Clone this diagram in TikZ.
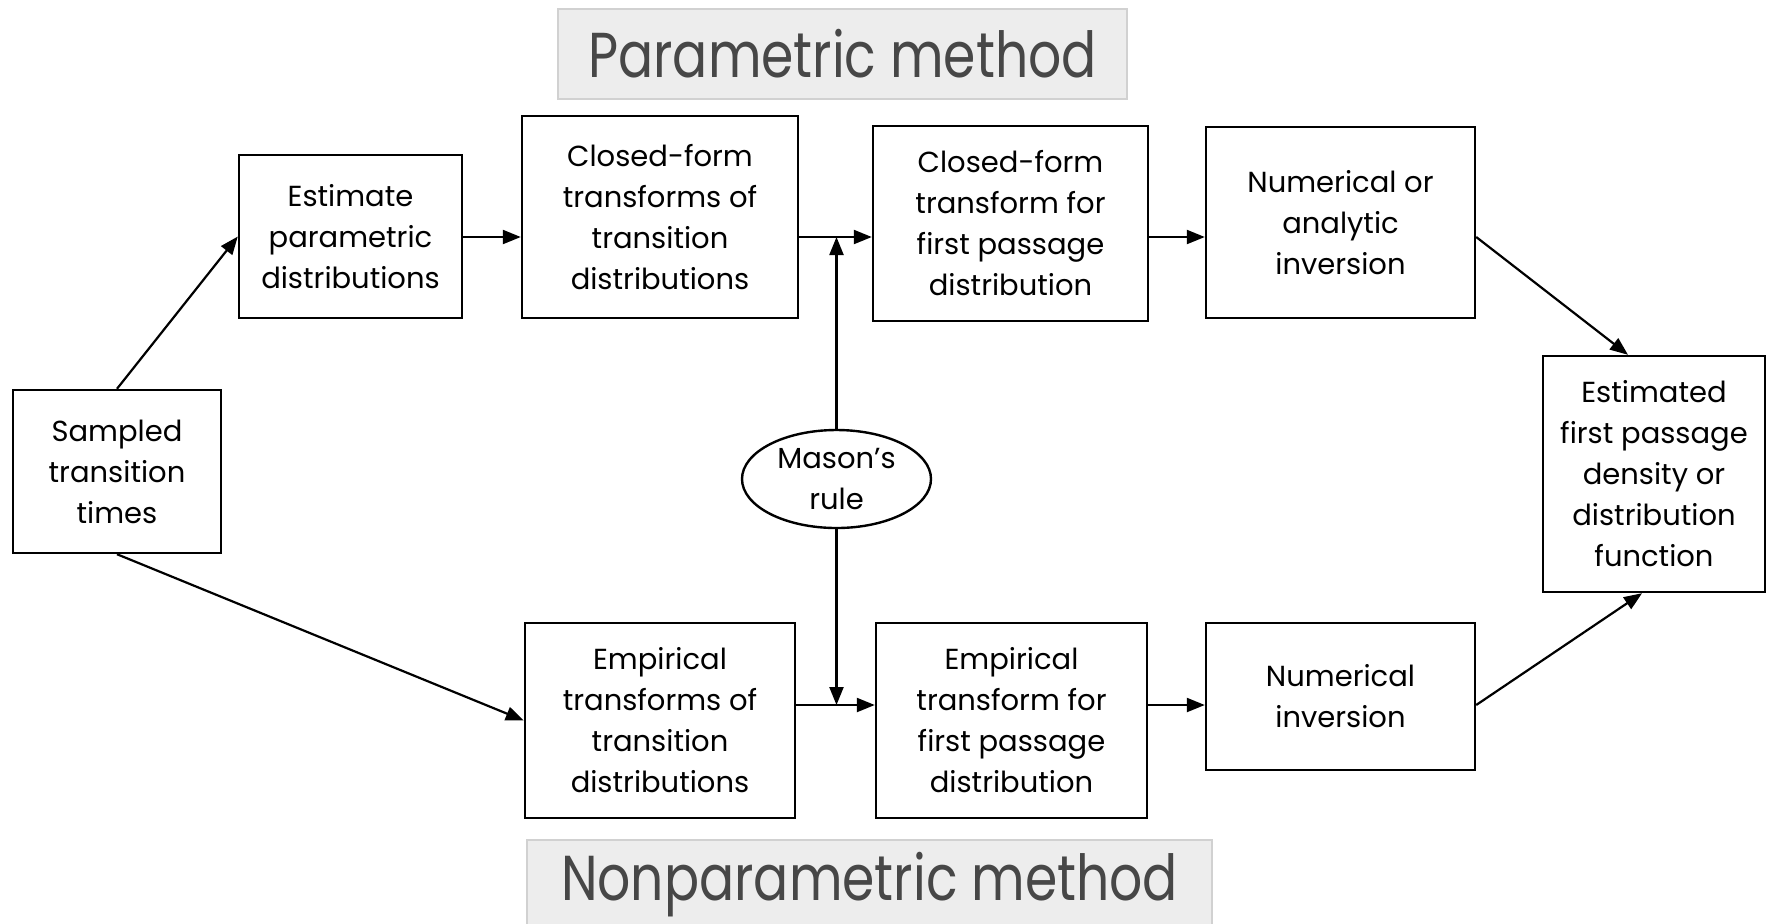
\documentclass[tikz,border=0pt]{standalone}
\usepackage{fontspec}
\setmainfont{Poppins}
\usetikzlibrary{arrows.meta,shapes.geometric}
\begin{document}
\begin{tikzpicture}[x=0.5pt,y=-0.5pt,
  box/.style={draw=black,line width=1.2pt,align=center,inner sep=0pt,
    font=\fontsize{14.5}{20.5}\selectfont},
  title/.style={draw=black!18,fill=black!7,line width=0.8pt,inner sep=0pt,
    text=black!72,font=\fontsize{26}{28}\selectfont},
  arr/.style={line width=1.1pt,-{Triangle[length=9pt,width=7pt]}}]
\useasboundingbox (0,0) rectangle (1767,923);
% titles
\node[title,minimum width=284.5pt,minimum height=45pt] (tp) at (842.5,54) {\scalebox{1}[1.22]{Parametric method}};
\node[title,minimum width=342.5pt,minimum height=45pt] (tn) at (869.5,885) {\scalebox{1}[1.22]{Nonparametric method}};
% boxes
\node[box,minimum width=103.75pt,minimum height=81.5pt] (samp) at (117,471.5) {Sampled\\transition\\times};
\node[box,minimum width=111.5pt,minimum height=81.5pt] (est) at (350.5,236.5) {Estimate\\parametric\\distributions};
\node[box,minimum width=138pt,minimum height=101pt] (cft) at (660,217) {Closed-form\\transforms of\\transition\\distributions};
\node[box,minimum width=137.5pt,minimum height=97.5pt] (cftf) at (1010.5,223.5) {Closed-form\\transform for\\first passage\\distribution};
\node[box,minimum width=134.5pt,minimum height=95.5pt] (noa) at (1340.5,222.5) {Numerical or\\analytic\\inversion};
\node[box,minimum width=111pt,minimum height=118pt] (estd) at (1654,474) {Estimated\\first passage\\density or\\distribution\\function};
\node[box,minimum width=135pt,minimum height=97.5pt] (emp) at (660,720.5) {Empirical\\transforms of\\transition\\distributions};
\node[box,minimum width=135.5pt,minimum height=97.5pt] (empf) at (1011.5,720.5) {Empirical\\transform for\\first passage\\distribution};
\node[box,minimum width=134.5pt,minimum height=73.5pt] (ni) at (1340.5,696.5) {Numerical\\inversion};
\node[box,ellipse,minimum width=94.5pt,minimum height=49pt] (mason) at (836.5,479) {Mason’s\\rule};
% coordinates
\coordinate (ya) at (0,237);
\coordinate (yb) at (0,705);
\coordinate (mu) at (836.5,237);
\coordinate (md) at (836.5,705);
% connectors
\draw[arr] (samp.north) -- (est.west);
\draw[arr] (samp.south) -- (emp.west);
\draw[arr] (est.east |- ya) -- (cft.west |- ya);
\draw[arr] (cft.east |- ya) -- (cftf.west |- ya);
\draw[arr] (cftf.east |- ya) -- (noa.west |- ya);
\draw[arr] (mason.north) -- (mu);
\draw[arr] (mason.south) -- (md);
\draw[arr] (emp.east |- yb) -- (empf.west |- yb);
\draw[arr] (empf.east |- yb) -- (ni.west |- yb);
\draw[arr] (noa.east |- ya) -- ([xshift=-13pt]estd.north);
\draw[arr] (ni.east |- yb) -- ([xshift=-6pt]estd.south);
\end{tikzpicture}
\end{document}
